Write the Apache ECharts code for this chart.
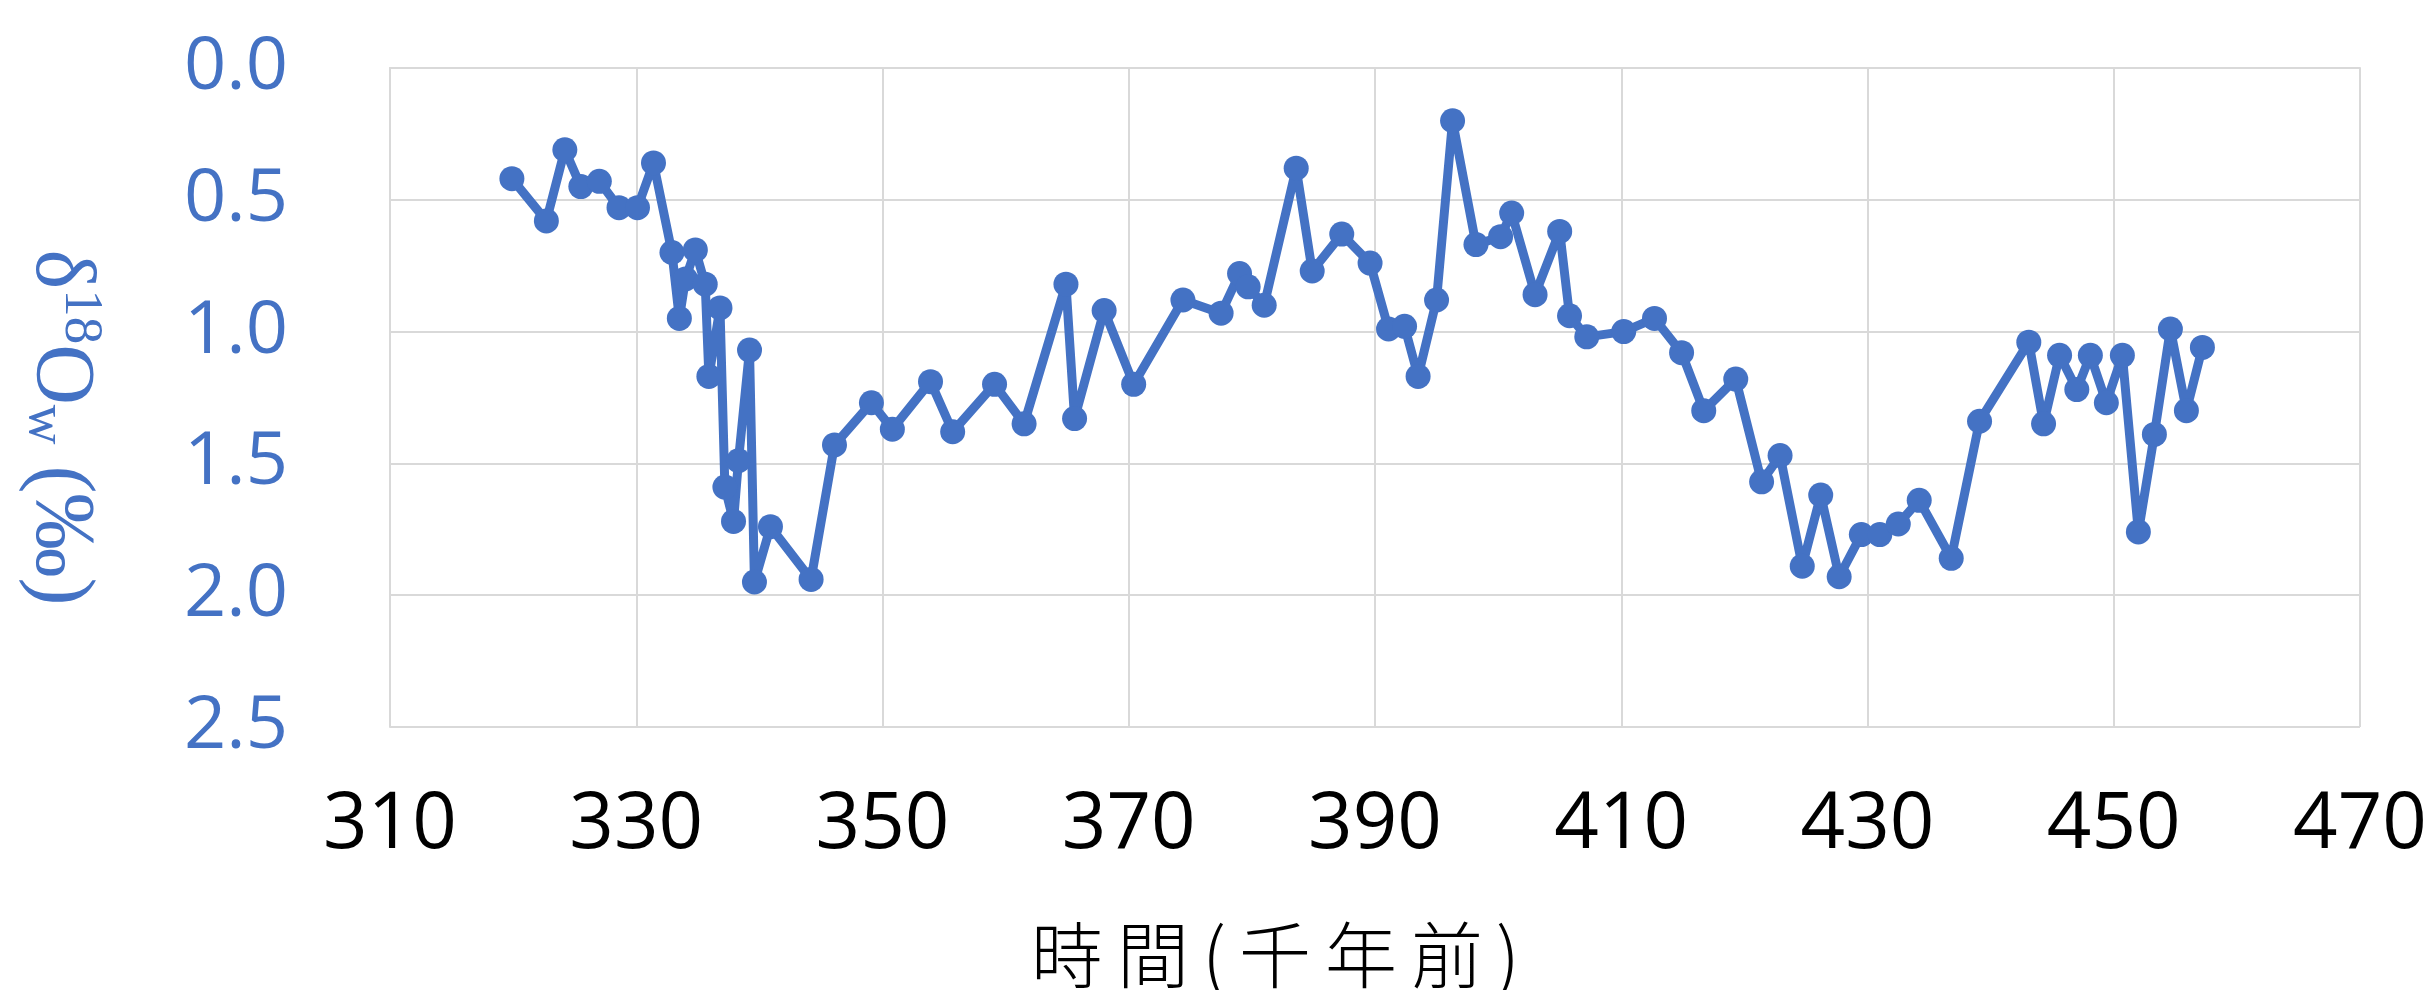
<!DOCTYPE html>
<html>
<head>
<meta charset="utf-8">
<script src="https://cdn.jsdelivr.net/npm/echarts@6/dist/echarts.min.js"></script>
<style>
html,body{margin:0;padding:0;background:#fff;}
#chart{width:2431px;height:990px;}
</style>
</head>
<body>
<div id="chart"></div>
<script>
// Time (thousand years ago)
const times = [319.9, 322.7, 324.2, 325.5, 327.0, 328.6, 330.1, 331.4, 332.9, 333.5,
  334.0, 334.8, 335.6, 335.9, 336.8, 337.2, 337.9, 338.3, 339.2, 339.6,
  340.9, 344.2, 346.1, 349.1, 350.8, 353.9, 355.7, 359.1, 361.5, 364.9,
  365.6, 368.0, 370.4, 374.4, 377.5, 379.0, 379.7, 381.0, 383.6, 384.9,
  387.3, 389.6, 391.1, 392.4, 393.5, 395.0, 396.3, 398.2, 400.2, 401.1,
  403.0, 405.0, 405.8, 407.2, 410.2, 412.7, 414.9, 416.7, 419.3, 421.4,
  422.9, 424.7, 426.2, 427.7, 429.5, 431.0, 432.5, 434.2, 436.8, 439.1,
  443.1, 444.3, 445.6, 447.0, 448.1, 449.4, 450.7, 452.0, 453.3, 454.6,
  455.9, 457.2];
// δ18Ow (‰)
const d18Ow = [0.42, 0.58, 0.31, 0.45, 0.43, 0.53, 0.53, 0.36, 0.70, 0.95,
  0.80, 0.69, 0.82, 1.17, 0.91, 1.59, 1.72, 1.49, 1.07, 1.95,
  1.74, 1.94, 1.43, 1.27, 1.37, 1.19, 1.38, 1.20, 1.35, 0.82,
  1.33, 0.92, 1.20, 0.88, 0.93, 0.78, 0.83, 0.90, 0.38, 0.77,
  0.63, 0.74, 0.99, 0.98, 1.17, 0.88, 0.20, 0.67, 0.64, 0.55,
  0.86, 0.62, 0.94, 1.02, 1.00, 0.95, 1.08, 1.30, 1.18, 1.57,
  1.47, 1.89, 1.62, 1.93, 1.77, 1.77, 1.73, 1.64, 1.86, 1.34,
  1.04, 1.35, 1.09, 1.22, 1.09, 1.27, 1.09, 1.76, 1.39, 0.99,
  1.30, 1.06];
const xAxisRange = [310, 470, 20];
const yAxisRange = [0, 2.5, 0.5];
const xAxisTitle = '時間(千年前)';

const blue = '#4472C4';
const grid = '#D9D9D9';
const chart = echarts.init(document.getElementById('chart'), null, {renderer: 'canvas'});
const points = times.map((t, i) => [t, d18Ow[i]]);
// spaced-out title (the original has wide character spacing)
const spacedTitle = xAxisTitle.split('').map(ch => '{' + (/[()]/.test(ch) ? 'p' : 'c') + '|' + ch + '}').join('');

chart.setOption({
  animation: false,
  backgroundColor: '#ffffff',
  grid: {left: 390, right: 71, top: 68, bottom: 263, containLabel: false, outerBoundsMode: 'none'},
  xAxis: {
    type: 'value', min: xAxisRange[0], max: xAxisRange[1], interval: xAxisRange[2],
    axisLine: {show: true, lineStyle: {color: grid, width: 2}},
    axisTick: {show: false},
    splitLine: {show: true, lineStyle: {color: grid, width: 2}},
    axisLabel: {color: '#000', fontFamily: 'Open Sans', fontSize: 78, margin: 60},
    name: spacedTitle,
    nameLocation: 'middle',
    nameGap: 190,
    nameTextStyle: {
      color: '#000', fontFamily: 'Noto Sans CJK TC', fontWeight: 300, fontSize: 72, padding: [0, 200, 0, 0],
      rich: {
        c: {color: '#000', fontFamily: 'Noto Sans CJK TC', fontWeight: 300, fontSize: 72, padding: [0, 7, 0, 7]},
        p: {color: '#000', fontFamily: 'Noto Sans CJK TC', fontWeight: 300, fontSize: 76, padding: [0, 6, 0, 6]}
      }
    }
  },
  yAxis: {
    type: 'value', inverse: true, min: yAxisRange[0], max: yAxisRange[1], interval: yAxisRange[2],
    axisLine: {show: true, lineStyle: {color: grid, width: 2}},
    axisTick: {show: false},
    splitLine: {show: true, lineStyle: {color: grid, width: 2}},
    axisLabel: {color: blue, fontFamily: 'Open Sans', fontSize: 74, margin: 102,
      formatter: v => v.toFixed(1)},
    name: '{n|δ}{sup|18}{n|O}{sub|w}{n| (‰)}',
    nameLocation: 'middle',
    nameRotate: -90,
    nameGap: 282,
    nameTextStyle: {
      color: blue, fontFamily: 'Liberation Serif', fontSize: 84, padding: [0, 0, 0, 60],
      rich: {
        n: {fontFamily: 'Liberation Serif', fontSize: 84, color: blue, verticalAlign: 'bottom'},
        sup: {fontFamily: 'Liberation Serif', fontSize: 55, color: blue, verticalAlign: 'top', padding: [0, 0, 36, 0]},
        sub: {fontFamily: 'Liberation Serif', fontSize: 55, color: blue, verticalAlign: 'bottom', padding: [22, 0, 0, 0]}
      }
    }
  },
  series: [{
    type: 'line',
    data: points,
    symbol: 'circle',
    symbolSize: 25,
    lineStyle: {color: blue, width: 9},
    itemStyle: {color: blue},
    z: 3
  }]
});
</script>
</body>
</html>
